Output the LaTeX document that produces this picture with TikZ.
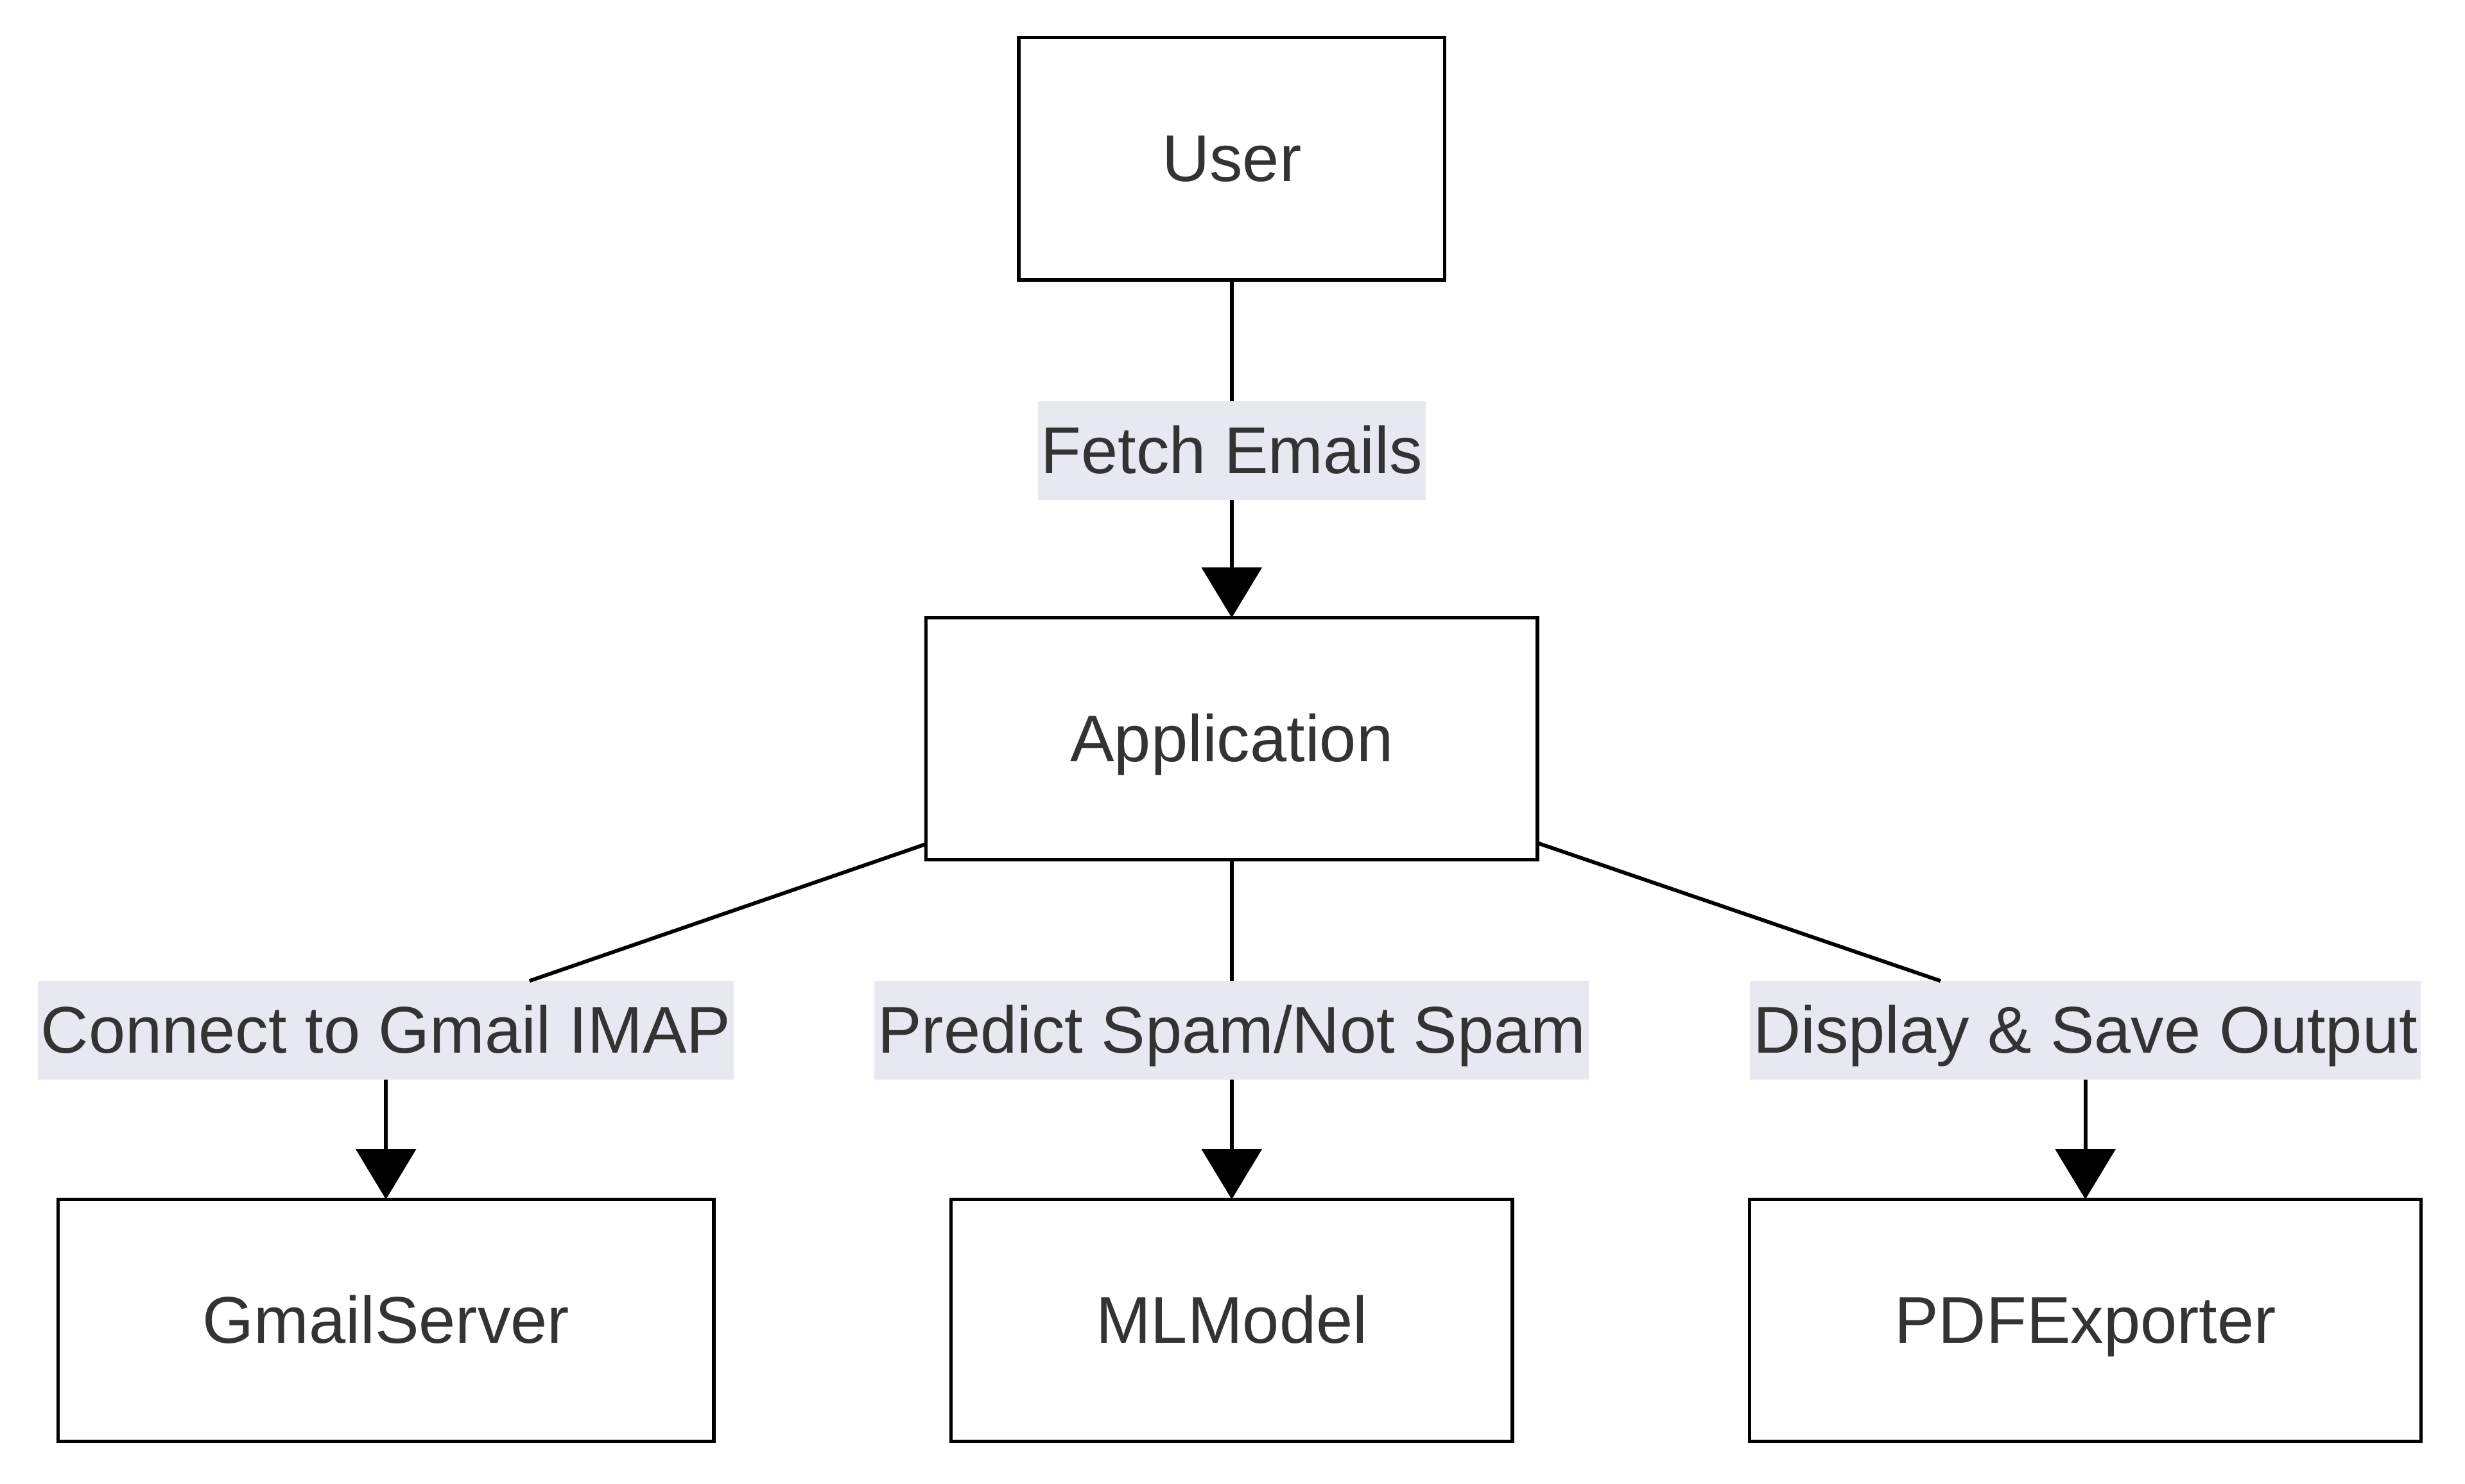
\documentclass[tikz,border=0pt]{standalone}
\usepackage{fontspec}
\setmainfont{Liberation Sans}
\usepackage{tikz}
\usetikzlibrary{%
  positioning,
  arrows.meta,
}
\definecolor{inkgray}{HTML}{333333}
\definecolor{lblfill}{HTML}{E8E8F0}

\begin{document}
\begin{tikzpicture}[
    x = 0.5pt, y = -0.5pt,
    box/.style = {
      rectangle, line width = 1.1pt,
      draw = black, fill = white,
      minimum height = 77pt, outer sep = 0pt,
      text height = 17pt, text depth = 2.5pt,
      font = \fontsize{21}{25}\selectfont, text = inkgray,
    },
    lbl/.style = {
      rectangle, fill = lblfill,
      inner xsep = 1pt, inner ysep = 0pt,
      minimum height = 31.5pt, outer sep = 0pt,
      text height = 17pt, text depth = 2.5pt,
      font = \fontsize{21}{25}\selectfont, text = inkgray,
    },
    flow/.style = {line width = 1.2pt, black},
    tip/.style = {-{Triangle[length = 16pt, width = 19pt]}},
  ]
        \useasboundingbox (0,0) rectangle (1568,944);

        \node[box, minimum width = 135.5pt] (user) at (783.5,101) {User};

        \node[
          box, minimum width = 194.5pt,
          below = 107.5pt of user,
        ] (app) {Application};

        \node[
          box, minimum width = 178.5pt,
          below = 108pt of app,
        ] (model) {MLModel};

        \node[
          box, minimum width = 208.5pt,
          left = 75.5pt of model,
        ] (gmail) {GmailServer};

        \node[
          box, minimum width = 213.5pt,
          right = 75.5pt of model,
        ] (pdf) {PDFExporter};

        % edge labels
        \node[lbl, above = 37.5pt of app] (fetch) {Fetch Emails};
        \node[lbl, above = 38pt of gmail] (imap) {Connect to Gmail IMAP};
        \node[lbl, above = 38pt of model] (predict) {Predict Spam/Not Spam};
        \node[lbl, above = 38pt of pdf] (save) {Display \& Save Output};

        \draw[flow] (user) -- (fetch);
        \draw[flow, tip] (fetch) -- (app);

        \draw[flow] (app) -- (imap);
        \draw[flow, tip] (imap) -- (gmail);

        \draw[flow] (app) -- (predict);
        \draw[flow, tip] (predict) -- (model);

        \draw[flow] (app) -- (save);
        \draw[flow, tip] (save) -- (pdf);
      \end{tikzpicture}
\end{document}
